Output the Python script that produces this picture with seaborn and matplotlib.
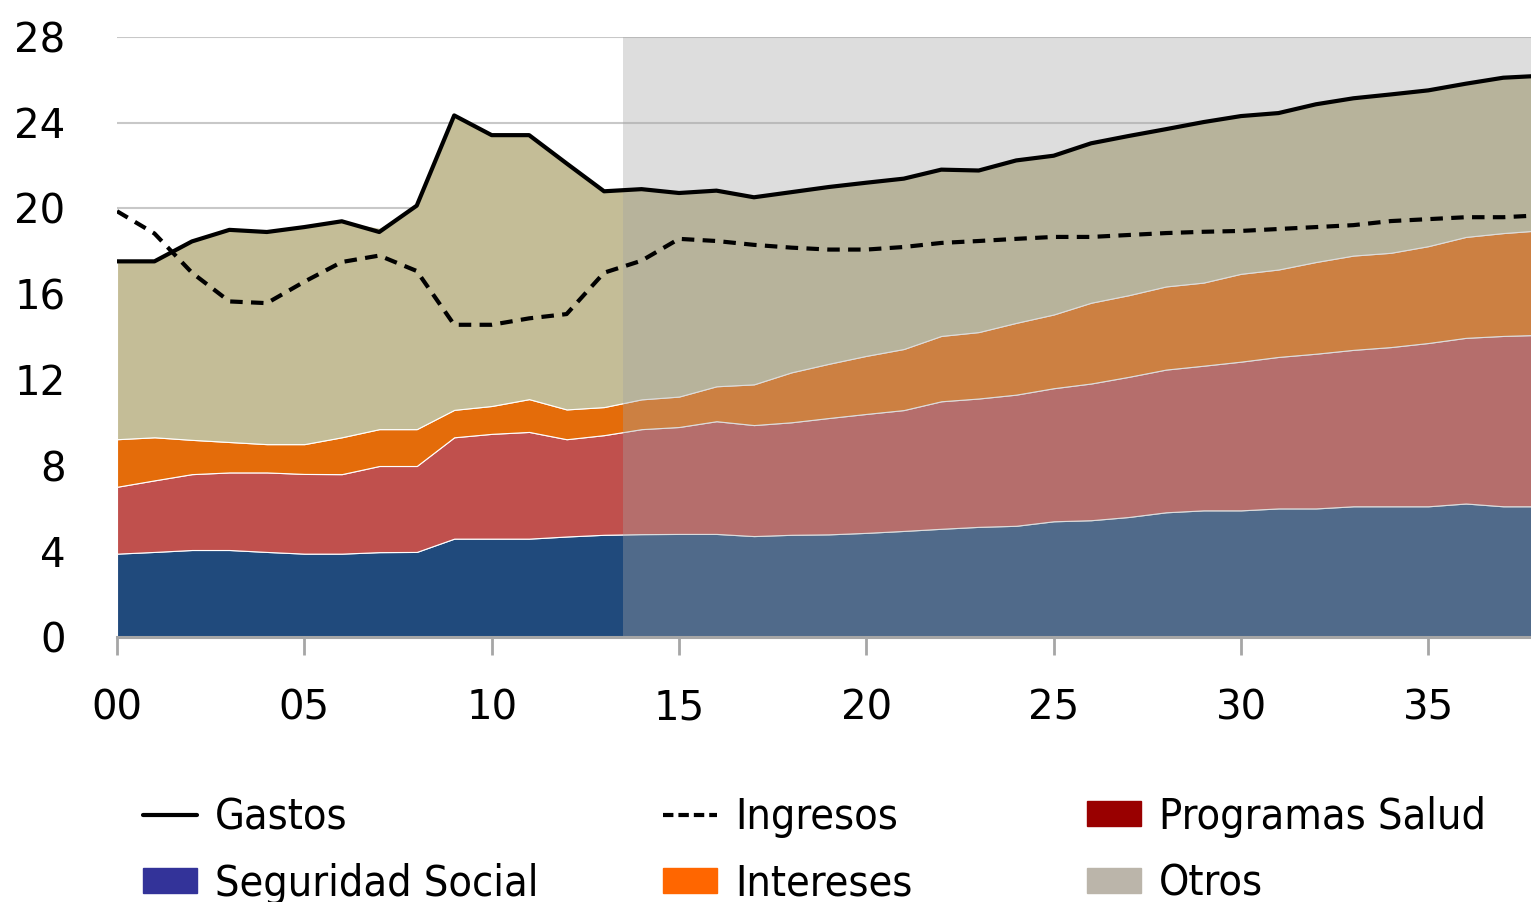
import matplotlib
matplotlib.use("Agg")
import matplotlib.pyplot as plt
import seaborn as sns
import numpy as np
from matplotlib.lines import Line2D
from matplotlib.patches import Patch

# ---- data (years since 2000, % of GDP) ----
years = list(range(0, 39))
seguridad_social = [3.89, 3.97, 4.06, 4.06, 3.97, 3.89, 3.89, 3.96, 3.97, 4.59, 4.59, 4.59, 4.69, 4.77,
                    4.80, 4.81, 4.81, 4.71, 4.77, 4.79, 4.86, 4.95, 5.05, 5.14, 5.19, 5.40, 5.45, 5.60,
                    5.82, 5.91, 5.91, 6.00, 6.00, 6.10, 6.10, 6.10, 6.23, 6.10, 6.10]
programas_salud = [3.12, 3.34, 3.54, 3.62, 3.71, 3.72, 3.71, 4.02, 4.01, 4.73, 4.89, 4.98, 4.54, 4.65,
                   4.90, 4.99, 5.26, 5.18, 5.25, 5.43, 5.55, 5.64, 5.95, 5.99, 6.12, 6.21, 6.38, 6.54,
                   6.66, 6.75, 6.94, 7.07, 7.22, 7.30, 7.43, 7.62, 7.73, 7.95, 8.00]
intereses = [2.22, 2.01, 1.60, 1.42, 1.32, 1.39, 1.72, 1.72, 1.72, 1.28, 1.30, 1.53, 1.39, 1.31,
             1.39, 1.42, 1.63, 1.90, 2.33, 2.53, 2.71, 2.85, 3.05, 3.10, 3.35, 3.44, 3.77, 3.81,
             3.88, 3.88, 4.10, 4.08, 4.28, 4.40, 4.40, 4.52, 4.71, 4.80, 4.88]
otros = [8.30, 8.21, 9.26, 9.90, 9.90, 10.13, 10.08, 9.40, 10.43, 13.74, 12.64, 12.32, 11.48, 10.07,
         9.81, 9.50, 9.13, 8.73, 8.41, 8.25, 8.08, 7.95, 7.76, 7.54, 7.58, 7.41, 7.44, 7.43,
         7.34, 7.49, 7.36, 7.30, 7.36, 7.34, 7.39, 7.27, 7.15, 7.25, 7.21]
gastos = [17.53, 17.53, 18.46, 19.00, 18.90, 19.13, 19.40, 18.90, 20.13, 24.34, 23.42, 23.42, 22.10, 20.80,
          20.90, 20.72, 20.83, 20.52, 20.76, 21.00, 21.20, 21.39, 21.81, 21.77, 22.24, 22.46, 23.04, 23.38,
          23.70, 24.03, 24.31, 24.45, 24.86, 25.14, 25.32, 25.51, 25.82, 26.10, 26.19]
ingresos = [19.87, 18.83, 17.00, 15.66, 15.58, 16.58, 17.50, 17.80, 17.08, 14.57, 14.57, 14.87, 15.07, 17.00,
            17.56, 18.58, 18.48, 18.30, 18.17, 18.08, 18.08, 18.20, 18.39, 18.48, 18.58, 18.67, 18.67, 18.76,
            18.85, 18.91, 18.95, 19.04, 19.13, 19.22, 19.41, 19.50, 19.59, 19.59, 19.68]
projection_start = 13.5
xtick_vals = [0, 5, 10, 15, 20, 25, 30, 35]
xtick_labels = ["00", "05", "10", "15", "20", "25", "30", "35"]
ytick_vals = [0, 4, 8, 12, 16, 20, 24, 28]

sns.set_theme(style="white")
plt.rcParams['font.family'] = ['DejaVu Sans']
plt.rcParams['text.color'] = 'black'

W, H = 1531, 902
fig = plt.figure(figsize=(W / 100, H / 100), dpi=100)
ax = fig.add_axes([117 / W, (H - 637) / H, 1 - 117 / W, 600 / H])

area_colors = ["#204A7C", "#C0504D", "#E46C0A", "#C4BD97"]
ax.stackplot(years, seguridad_social, programas_salud, intereses, otros,
             colors=area_colors, edgecolor="white", linewidth=0.8, zorder=1)

# projection shading
ax.axvspan(projection_start, 40, color=(163 / 255, 163 / 255, 163 / 255), alpha=0.37, lw=0, zorder=2)

sns.lineplot(x=years, y=gastos, color="black", lw=3, ax=ax, zorder=3)
sns.lineplot(x=years, y=ingresos, color="black", lw=3, linestyle=(0, (3, 2)), ax=ax, zorder=3)

ax.set_xlim(0, 37.74)
ax.set_ylim(0, 28)
ax.set_yticks(ytick_vals)
ax.set_xticks(xtick_vals)
ax.set_xticklabels(xtick_labels)
ax.set_xlabel("")
ax.set_ylabel("")

ax.yaxis.grid(True, color="#C8C8C8", lw=1.5, zorder=0)
ax.xaxis.grid(False)
ax.set_axisbelow(True)
for s in ["top", "right", "left"]:
    ax.spines[s].set_visible(False)
ax.spines["bottom"].set_color("#A6A6A6")
ax.spines["bottom"].set_linewidth(2.2)
ax.spines["bottom"].set_zorder(4)

ax.tick_params(axis="x", direction="out", length=13, width=2, color="#A6A6A6",
               labelsize=29, pad=24, bottom=True)
ax.tick_params(axis="y", length=0, labelsize=29, pad=37)
for t in ax.get_xticklabels() + ax.get_yticklabels():
    t.set_color("black")
for t in ax.get_yticklabels():
    t.set_verticalalignment("center_baseline")

# legend: three columns, placed individually
prop = {"family": "DejaVu Sans", "stretch": "condensed", "size": 31}
cols = [
    ([Line2D([], [], color="black", lw=3), Patch(color="#333399")], ["Gastos", "Seguridad Social"], 143),
    ([Line2D([], [], color="black", lw=3, linestyle=(0, (2.5, 1.2))), Patch(color="#FF6600")], ["Ingresos", "Intereses"], 663),
    ([Patch(color="#990000"), Patch(color="#BBB5AA")], ["Programas Salud", "Otros"], 1087),
]
for handles, labels, xpx in cols:
    leg = fig.legend(handles, labels, loc="upper left", bbox_to_anchor=(xpx / W, (H - 796) / H),
                     frameon=False, prop=prop, borderpad=0, borderaxespad=0,
                     handlelength=1.25, handleheight=0.5, handletextpad=0.42, labelspacing=0.58)
    for t in leg.get_texts():
        t.set_color("black")

fig.savefig("out.png", dpi=100)
